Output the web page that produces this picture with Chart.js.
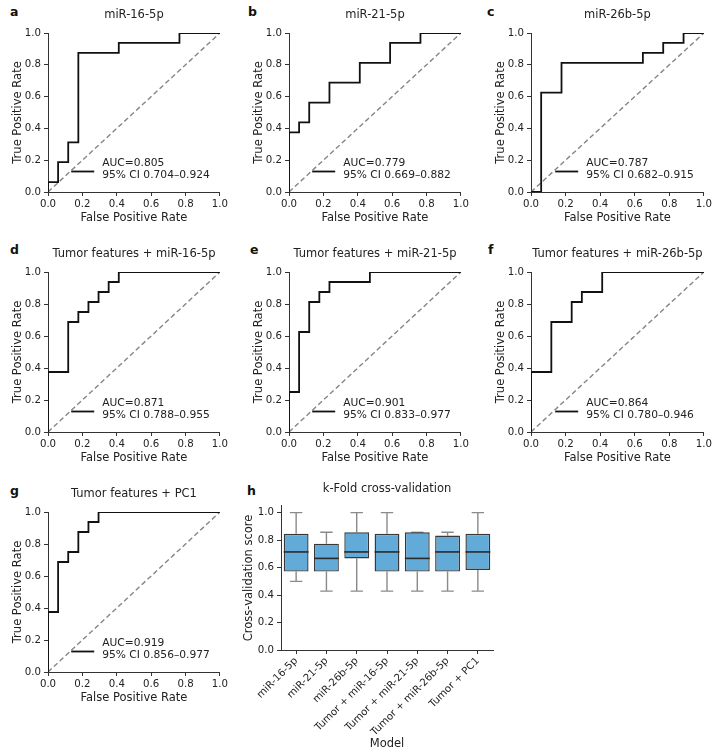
<!DOCTYPE html>
<html>
<head>
<meta charset="utf-8">
<script src="https://cdn.jsdelivr.net/npm/chart.js@4.4.1/dist/chart.umd.min.js"></script>
<style>
  body { margin: 0; background: #fff; width: 715px; height: 755px; position: relative; overflow: hidden; font-family: "DejaVu Sans", sans-serif; }
  canvas { position: absolute; }
  .tag { position: absolute; font-weight: bold; font-size: 12.5px; line-height: 12px; color: #111; }
</style>
</head>
<body>
<div class="tag" style="left:10px;top:6px">a</div>
<div class="tag" style="left:248px;top:6px">b</div>
<div class="tag" style="left:487px;top:6px">c</div>
<div class="tag" style="left:10px;top:244px">d</div>
<div class="tag" style="left:250px;top:244px">e</div>
<div class="tag" style="left:488px;top:244px">f</div>
<div class="tag" style="left:10px;top:485px">g</div>
<div class="tag" style="left:247px;top:485px">h</div>

<canvas id="rocA" width="230" height="225" style="left:0;top:0"></canvas>
<canvas id="rocB" width="230" height="225" style="left:241px;top:0"></canvas>
<canvas id="rocC" width="231" height="225" style="left:483px;top:0"></canvas>
<canvas id="rocD" width="230" height="226" style="left:0;top:239px"></canvas>
<canvas id="rocE" width="230" height="226" style="left:241px;top:239px"></canvas>
<canvas id="rocF" width="231" height="226" style="left:483px;top:239px"></canvas>
<canvas id="rocG" width="230" height="226" style="left:0;top:479px"></canvas>
<canvas id="cvBox" width="270" height="280" style="left:232px;top:475px"></canvas>

<script>
// ─── Data ─────────────────────────────────────────────────────────────────────
const fprA = [0, 0, 0.0588, 0.0588, 0.1176, 0.1176, 0.1765, 0.1765, 0.4118, 0.4118, 0.7647, 0.7647, 1];
const tprA = [0, 0.0625, 0.0625, 0.1875, 0.1875, 0.3125, 0.3125, 0.875, 0.875, 0.9375, 0.9375, 1, 1];

const fprB = [0, 0, 0.0588, 0.0588, 0.1176, 0.1176, 0.2353, 0.2353, 0.4118, 0.4118, 0.5882, 0.5882, 0.7647, 0.7647, 1];
const tprB = [0, 0.375, 0.375, 0.4375, 0.4375, 0.5625, 0.5625, 0.6875, 0.6875, 0.8125, 0.8125, 0.9375, 0.9375, 1, 1];

const fprC = [0, 0.0588, 0.0588, 0.1765, 0.1765, 0.6471, 0.6471, 0.7647, 0.7647, 0.8824, 0.8824, 1];
const tprC = [0, 0, 0.625, 0.625, 0.8125, 0.8125, 0.875, 0.875, 0.9375, 0.9375, 1, 1];

const fprD = [0, 0, 0.1176, 0.1176, 0.1765, 0.1765, 0.2353, 0.2353, 0.2941, 0.2941, 0.3529, 0.3529, 0.4118, 0.4118, 1];
const tprD = [0, 0.375, 0.375, 0.6875, 0.6875, 0.75, 0.75, 0.8125, 0.8125, 0.875, 0.875, 0.9375, 0.9375, 1, 1];

const fprE = [0, 0, 0.0588, 0.0588, 0.1176, 0.1176, 0.1765, 0.1765, 0.2353, 0.2353, 0.4706, 0.4706, 1];
const tprE = [0, 0.25, 0.25, 0.625, 0.625, 0.8125, 0.8125, 0.875, 0.875, 0.9375, 0.9375, 1, 1];

const fprF = [0, 0, 0.1176, 0.1176, 0.2353, 0.2353, 0.2941, 0.2941, 0.4118, 0.4118, 1];
const tprF = [0, 0.375, 0.375, 0.6875, 0.6875, 0.8125, 0.8125, 0.875, 0.875, 1, 1];

const fprG = [0, 0, 0.0588, 0.0588, 0.1176, 0.1176, 0.1765, 0.1765, 0.2353, 0.2353, 0.2941, 0.2941, 1];
const tprG = [0, 0.375, 0.375, 0.6875, 0.6875, 0.75, 0.75, 0.875, 0.875, 0.9375, 0.9375, 1, 1];

const chanceX = [0, 1];
const chanceY = [0, 1];
const rateTicks = [0, 0.2, 0.4, 0.6, 0.8, 1.0];

const cvLabels = ['miR-16-5p', 'miR-21-5p', 'miR-26b-5p', 'Tumor + miR-16-5p', 'Tumor + miR-21-5p', 'Tumor + miR-26b-5p', 'Tumor + PC1'];
const cvMin    = [0.5, 0.429, 0.429, 0.429, 0.429, 0.429, 0.429];
const cvQ1     = [0.571, 0.571, 0.667, 0.571, 0.571, 0.571, 0.583];
const cvMedian = [0.714, 0.667, 0.714, 0.714, 0.667, 0.714, 0.714];
const cvQ3     = [0.846, 0.774, 0.857, 0.846, 0.857, 0.833, 0.846];
const cvMax    = [1.0, 0.857, 1.0, 1.0, 0.857, 0.857, 1.0];

// ─── Shared style ─────────────────────────────────────────────────────────────
const FONT = '"DejaVu Sans", sans-serif';
const INK = '#222';
const SPINE = '#333';
const tickFont = { family: FONT, size: 10.2 };
const labelFont = { family: FONT, size: 11.5 };

// ─── AUC legend, lower right, no frame ───────────────────────────────────────
const aucLegend = {
  id: 'aucLegend',
  afterDraw(chart, args, opts) {
    if (!opts || !opts.lines) return;
    const { ctx, chartArea } = chart;
    ctx.save();
    ctx.font = '10.7px ' + FONT;
    const w = Math.max(...opts.lines.map(t => ctx.measureText(t).width));
    const tx = chartArea.right - 10 - w;
    const hy = chartArea.bottom - 20.5;
    ctx.strokeStyle = '#111';
    ctx.lineWidth = 1.8;
    ctx.beginPath();
    ctx.moveTo(tx - 31, hy);
    ctx.lineTo(tx - 8, hy);
    ctx.stroke();
    ctx.fillStyle = INK;
    ctx.textBaseline = 'middle';
    ctx.fillText(opts.lines[0], tx, chartArea.bottom - 29);
    ctx.fillText(opts.lines[1], tx, chartArea.bottom - 16.5);
    ctx.restore();
  }
};

function rocChart(id, fpr, tpr, title, auc, ci) {
  const ctx = document.getElementById(id);
  return new Chart(ctx, {
    type: 'scatter',
    data: {
      datasets: [
        { data: fpr.map((x, i) => ({ x, y: tpr[i] })), showLine: true, borderColor: '#111', borderWidth: 1.8, pointRadius: 0, tension: 0 },
        { data: chanceX.map((x, i) => ({ x, y: chanceY[i] })), showLine: true, borderColor: '#858585', borderWidth: 1.4, borderDash: [5, 3], pointRadius: 0 }
      ]
    },
    options: {
      responsive: false, animation: false, events: [],
      layout: { padding: { left: 0, right: 10, top: 0, bottom: 0 } },
      plugins: {
        legend: { display: false }, tooltip: { enabled: false },
        title: { display: true, fullSize: false, text: title, color: INK, font: { family: FONT, size: 11.5, weight: 'normal' }, padding: { top: 8, bottom: 11.2 } },
        aucLegend: { lines: ['AUC=' + auc, '95% CI ' + ci] }
      },
      scales: {
        x: {
          type: 'linear', min: 0, max: 1,
          afterBuildTicks: s => { s.ticks = rateTicks.map(v => ({ value: v })); },
          ticks: { callback: v => v.toFixed(1), color: INK, font: tickFont, padding: 2, maxRotation: 0 },
          grid: { drawOnChartArea: false, drawTicks: true, tickLength: 4, color: SPINE },
          border: { color: SPINE, width: 1 },
          title: { display: true, text: 'False Positive Rate', color: INK, font: labelFont, padding: { top: 0, bottom: 0.5 } },
          afterFit: s => { s.height = 33; }
        },
        y: {
          type: 'linear', min: 0, max: 1,
          afterBuildTicks: s => { s.ticks = rateTicks.map(v => ({ value: v })); },
          ticks: { callback: v => v.toFixed(1), color: INK, font: tickFont, padding: 3 },
          grid: { drawOnChartArea: false, drawTicks: true, tickLength: 4, color: SPINE },
          border: { color: SPINE, width: 1 },
          title: { display: true, text: 'True Positive Rate', color: INK, font: labelFont, padding: { top: 11, bottom: 0 } },
          afterFit: s => { s.width = 48; }
        }
      }
    },
    plugins: [aucLegend]
  });
}

// ─── Box plot pieces drawn on the library's scales ───────────────────────────
const boxParts = {
  id: 'boxParts',
  beforeDatasetsDraw(chart) {
    const { ctx, scales: { y } } = chart;
    const bars = chart.getDatasetMeta(0).data;
    ctx.save();
    ctx.strokeStyle = '#8a8a8a';
    ctx.lineWidth = 1.4;
    bars.forEach((bar, i) => {
      const half = bar.width / 4;
      [[cvQ3[i], cvMax[i]], [cvQ1[i], cvMin[i]]].forEach(([from, to]) => {
        const y0 = y.getPixelForValue(from), y1 = y.getPixelForValue(to);
        ctx.beginPath();
        ctx.moveTo(bar.x, y0); ctx.lineTo(bar.x, y1);
        ctx.moveTo(bar.x - half, y1); ctx.lineTo(bar.x + half, y1);
        ctx.stroke();
      });
    });
    ctx.restore();
  },
  afterDatasetsDraw(chart) {
    const { ctx, scales: { y } } = chart;
    const bars = chart.getDatasetMeta(0).data;
    ctx.save();
    ctx.strokeStyle = '#2a2a2a';
    ctx.lineWidth = 1.6;
    bars.forEach((bar, i) => {
      const py = y.getPixelForValue(cvMedian[i]);
      ctx.beginPath();
      ctx.moveTo(bar.x - bar.width / 2, py);
      ctx.lineTo(bar.x + bar.width / 2, py);
      ctx.stroke();
    });
    ctx.restore();
  }
};

function boxChart(id) {
  const ctx = document.getElementById(id);
  return new Chart(ctx, {
    type: 'bar',
    data: {
      labels: cvLabels,
      datasets: [{
        data: cvQ1.map((v, i) => [v, cvQ3[i]]),
        backgroundColor: '#62aad8', borderColor: '#383838', borderWidth: 1.4, borderSkipped: false,
        barPercentage: 0.82, categoryPercentage: 1.0
      }]
    },
    options: {
      responsive: false, animation: false, events: [],
      layout: { padding: { left: 0, right: 9, top: 0, bottom: 0 } },
      plugins: {
        legend: { display: false }, tooltip: { enabled: false },
        title: { display: true, fullSize: false, text: 'k-Fold cross-validation', color: INK, font: { family: FONT, size: 11.5, weight: 'normal' }, padding: { top: 7.6, bottom: 9.4 } }
      },
      scales: {
        x: {
          ticks: { color: INK, font: tickFont, minRotation: 45, maxRotation: 45, autoSkip: false, padding: 1 },
          grid: { offset: false, drawOnChartArea: false, drawTicks: true, tickLength: 4, color: SPINE },
          border: { color: SPINE, width: 1 },
          title: { display: true, text: 'Model', color: INK, font: labelFont, padding: { top: 0, bottom: 4 } },
          afterFit: s => { s.height = 105; }
        },
        y: {
          min: 0, max: 1.05,
          afterBuildTicks: s => { s.ticks = rateTicks.map(v => ({ value: v })); },
          ticks: { callback: v => v.toFixed(1), color: INK, font: tickFont, padding: 3 },
          grid: { drawOnChartArea: false, drawTicks: true, tickLength: 4, color: SPINE },
          border: { color: SPINE, width: 1 },
          title: { display: true, text: 'Cross-validation score', color: INK, font: labelFont, padding: { top: 10.5, bottom: 0 } },
          afterFit: s => { s.width = 49; }
        }
      }
    },
    plugins: [boxParts]
  });
}

rocChart('rocA', fprA, tprA, 'miR-16-5p', '0.805', '0.704–0.924');
rocChart('rocB', fprB, tprB, 'miR-21-5p', '0.779', '0.669–0.882');
rocChart('rocC', fprC, tprC, 'miR-26b-5p', '0.787', '0.682–0.915');
rocChart('rocD', fprD, tprD, 'Tumor features + miR-16-5p', '0.871', '0.788–0.955');
rocChart('rocE', fprE, tprE, 'Tumor features + miR-21-5p', '0.901', '0.833–0.977');
rocChart('rocF', fprF, tprF, 'Tumor features + miR-26b-5p', '0.864', '0.780–0.946');
rocChart('rocG', fprG, tprG, 'Tumor features + PC1', '0.919', '0.856–0.977');
boxChart('cvBox');
</script>
</body>
</html>
